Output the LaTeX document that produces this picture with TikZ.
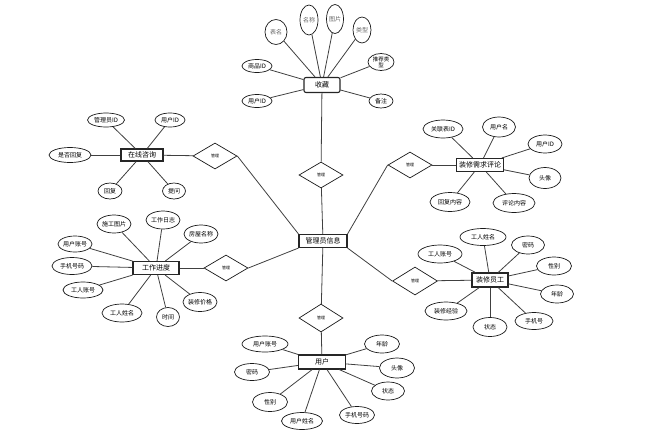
\documentclass[tikz,border=0pt]{standalone}
\usepackage{fontspec}
\newfontfamily\cjk{Noto Sans CJK SC}
\usetikzlibrary{shapes.geometric}
\begin{document}
\begin{tikzpicture}[x=1pt,y=-1pt,
  every node/.style={font=\cjk\fontsize{6}{7}\selectfont},
  ent/.style={draw=black!85,line width=1.1pt,fill=white,inner sep=0pt,font=\cjk\fontsize{7}{8}\selectfont},
  rent/.style={ent,rounded corners=2pt},
  attr/.style={draw=black!90,line width=0.7pt,ellipse,fill=white,inner sep=0pt},
  vattr/.style={attr,text=black!60},
  rel/.style={draw=black!90,line width=0.7pt,diamond,fill=white,inner sep=0pt,minimum width=44pt,minimum height=26pt,aspect=1.7,font=\cjk\fontsize{4}{5}\selectfont},
  ln/.style={draw=black!75,line width=0.8pt}]
\useasboundingbox (0,0) rectangle (656,437);
% ---------- nodes ----------
\node[ent,minimum width=48pt,minimum height=13pt] (admin) at (323,241) {管理员信息};
% favourites
\node[rent,minimum width=36pt,minimum height=15pt] (fav) at (322,85) {收藏};
\node[vattr,minimum width=22pt,minimum height=25pt] (f1) at (276,32) {表名};
\node[vattr,minimum width=18pt,minimum height=30pt] (f2) at (309,20) {名称};
\node[vattr,minimum width=16pt,minimum height=29pt] (f3) at (335,19) {图片};
\node[vattr,minimum width=18pt,minimum height=26pt] (f4) at (362,30) {类型};
\node[attr,minimum width=30pt,minimum height=13pt] (f5) at (257,66) {商品ID};
\node[attr,minimum width=30pt,minimum height=13pt] (f6) at (257,101) {用户ID};
\node[attr,minimum width=26pt,minimum height=17pt,align=center,font=\cjk\fontsize{5.5}{6}\selectfont] (f7) at (381,62) {推荐类\\型};
\node[attr,minimum width=24pt,minimum height=14pt] (f8) at (381,101) {备注};
\node[rel] (d0) at (321,175) {管理};
% consultation
\node[ent,minimum width=42pt,minimum height=12pt] (e1) at (142,155) {在线咨询};
\node[attr,minimum width=37pt,minimum height=14pt] (a11) at (106,120) {管理员ID};
\node[attr,minimum width=30pt,minimum height=14pt] (a12) at (170,120) {用户ID};
\node[attr,minimum width=42pt,minimum height=15pt] (a13) at (70,155) {是否回复};
\node[attr,minimum width=24pt,minimum height=16pt] (a14) at (110,191) {回复};
\node[attr,minimum width=23pt,minimum height=16pt] (a15) at (174,191) {提问};
\node[rel] (d1) at (215,156) {管理};
% work progress
\node[ent,minimum width=46pt,minimum height=13pt] (e2) at (156,268) {工作进度};
\node[attr,minimum width=34pt,minimum height=18pt] (a21) at (114,224) {施工图片};
\node[attr,minimum width=34pt,minimum height=18pt] (a22) at (163,220) {工作日志};
\node[attr,minimum width=34pt,minimum height=18pt] (a23) at (201,234) {房屋名称};
\node[attr,minimum width=34pt,minimum height=16pt] (a24) at (75,244) {用户账号};
\node[attr,minimum width=40pt,minimum height=17pt] (a25) at (72,266) {手机号码};
\node[attr,minimum width=40pt,minimum height=16pt] (a26) at (83,290) {工人账号};
\node[attr,minimum width=40pt,minimum height=18pt] (a27) at (122,313) {工人姓名};
\node[attr,minimum width=23pt,minimum height=19pt] (a28) at (168,317) {时间};
\node[attr,minimum width=34pt,minimum height=19pt] (a29) at (200,302) {装修价格};
\node[rel] (d2) at (226,268) {管理};
% comments
\node[ent,minimum width=47pt,minimum height=13pt] (e3) at (480,165) {装修需求评论};
\node[attr,minimum width=40pt,minimum height=18pt] (a31) at (443,129) {关联表ID};
\node[attr,minimum width=33pt,minimum height=20pt] (a32) at (499,127) {用户名};
\node[attr,minimum width=34pt,minimum height=18pt] (a33) at (545,144) {用户ID};
\node[attr,minimum width=32pt,minimum height=21pt] (a34) at (545,178) {头像};
\node[attr,minimum width=40pt,minimum height=19pt] (a35) at (450,202) {回复内容};
\node[attr,minimum width=42pt,minimum height=19pt] (a36) at (514,203) {评论内容};
\node[rel] (d3) at (410,165) {管理};
% staff
\node[ent,minimum width=36pt,minimum height=14pt] (e4) at (490,280) {装修员工};
\node[attr,minimum width=44pt,minimum height=18pt] (a41) at (440,254) {工人账号};
\node[attr,minimum width=46pt,minimum height=17pt] (a42) at (483,237) {工人姓名};
\node[attr,minimum width=33pt,minimum height=18pt] (a43) at (528,245) {密码};
\node[attr,minimum width=35pt,minimum height=18pt] (a44) at (554,266) {性别};
\node[attr,minimum width=33pt,minimum height=18pt] (a45) at (557,294) {年龄};
\node[attr,minimum width=38pt,minimum height=17pt] (a46) at (534,321) {手机号};
\node[attr,minimum width=34pt,minimum height=19pt] (a47) at (490,327) {状态};
\node[attr,minimum width=42pt,minimum height=18pt] (a48) at (446,311) {装修经验};
\node[rel,minimum width=45pt,minimum height=28pt] (d4) at (415,281) {管理};
% user
\node[ent,minimum width=47pt,minimum height=14pt] (e5) at (322,362) {用户};
\node[attr,minimum width=46pt,minimum height=16pt] (a51) at (265,344) {用户账号};
\node[attr,minimum width=35pt,minimum height=17pt] (a52) at (252,372) {密码};
\node[attr,minimum width=35pt,minimum height=19pt] (a53) at (270,402) {性别};
\node[attr,minimum width=41pt,minimum height=17pt] (a54) at (302,421) {用户姓名};
\node[attr,minimum width=35pt,minimum height=17pt] (a55) at (357,415) {手机号码};
\node[attr,minimum width=33pt,minimum height=18pt] (a56) at (388,391) {状态};
\node[attr,minimum width=35pt,minimum height=20pt] (a57) at (397,368) {头像};
\node[attr,minimum width=35pt,minimum height=18pt] (a58) at (382,344) {年龄};
\node[rel,minimum height=28pt] (d5) at (321,318) {管理};
% ---------- connectors ----------
\foreach \a in {f1,f2,f3,f4,f5,f6,f7,f8} \draw[ln] (fav) -- (\a);
\foreach \a in {a11,a12,a13,a14,a15} \draw[ln] (e1) -- (\a);
\foreach \a in {a21,a22,a23,a24,a25,a26,a27,a28,a29} \draw[ln] (e2) -- (\a);
\foreach \a in {a31,a32,a33,a34,a35,a36} \draw[ln] (e3) -- (\a);
\foreach \a in {a41,a42,a43,a44,a45,a46,a47,a48} \draw[ln] (e4) -- (\a);
\foreach \a in {a51,a52,a53,a54,a55,a56,a57,a58} \draw[ln] (e5) -- (\a);
\draw[ln] (fav) -- (d0);
\draw[ln] (d0) -- (admin);
\draw[ln] (e1) -- (d1);
\draw[ln] (d1.east) -- (admin.north west);
\draw[ln] (e2) -- (d2);
\draw[ln] (d2.east) -- (admin.south west);
\draw[ln] (e3) -- (d3);
\draw[ln] (d3.west) -- (admin.north east);
\draw[ln] (e4) -- (d4);
\draw[ln] (d4.west) -- (admin.south east);
\draw[ln] (admin) -- (d5);
\draw[ln] (d5) -- (e5);
\end{tikzpicture}
\end{document}
